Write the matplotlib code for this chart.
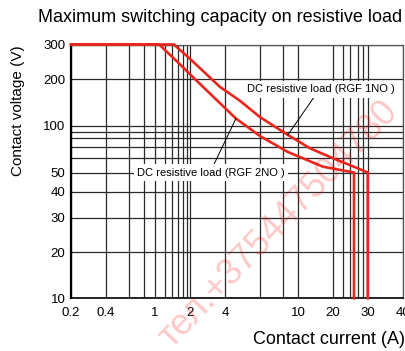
import numpy as np
import matplotlib.pyplot as plt

plt.rcParams['font.family'] = ['Liberation Sans', 'DejaVu Sans']

# chart grid (the original drawing is not a true log grid)
x_grid = [0.2, 0.4, 0.6, 0.8, 1, 1.2, 1.4, 1.6, 1.8, 1.9, 2, 4, 6, 8, 10,
          20, 22, 24, 26, 28, 30, 40]
y_grid = [10, 20, 30, 40, 50, 60, 70, 80, 90, 100, 200, 300]

x_ticks = [0.2, 0.4, 1, 2, 4, 10, 20, 30, 40]
x_labels = ['0.2', '0.4', '1', '2', '4', '10', '20', '30', '40']
y_ticks = [10, 20, 30, 40, 50, 100, 200, 300]
y_labels = ['10', '20', '30', '40', '50', '100', '200', '300']

# switching capacity curves
current_1no = [0.2, 1.46, 1.94, 2.44, 3.62, 4.76, 6, 8.6, 12.7, 20, 24.7, 30, 30]
voltage_1no = [300, 300, 259, 227, 178, 145, 114, 85, 68.4, 59.6, 54, 50, 10]
current_2no = [0.2, 1.08, 1.6, 2.25, 3.62, 4.54, 6, 8.6, 16.4, 25, 25]
voltage_2no = [300, 300, 243, 197, 140, 111.7, 83.3, 65, 53.7, 50, 10]

# scale knots: value -> position on the drawn axis
x_knot_val = [0.2, 0.4, 0.6, 0.8, 1, 1.2, 1.4, 1.6, 1.8, 2, 4, 6, 8, 10,
              20, 22, 24, 25, 26, 28, 30, 40]
x_knot_pos = [0, 35, 58, 73, 84, 94, 101, 107, 112, 119, 154, 189, 212, 227,
              262, 272, 279, 283, 287.3, 291.7, 296.7, 332]
y_knot_val = [10, 20, 30, 40, 50, 60, 70, 80, 90, 100, 200, 300]
y_knot_pos = [0, 46, 80.6, 106.6, 125.8, 140.6, 151.6, 160, 166.6, 172.3, 219.3, 253.8]


def make_scale(vals, pos):
    lv = np.log10(vals)

    def fwd(v):
        v = np.clip(np.asarray(v, dtype=float), 1e-6, None)
        return np.interp(np.log10(v), lv, pos)

    def inv(p):
        return 10 ** np.interp(p, pos, lv)
    return fwd, inv


fig = plt.figure(figsize=(4.06, 3.51), dpi=100)
ax = fig.add_axes([71 / 406, 1 - 298.3 / 351, 332 / 406, 253.8 / 351])

ax.set_xscale('function', functions=make_scale(x_knot_val, x_knot_pos))
ax.set_yscale('function', functions=make_scale(y_knot_val, y_knot_pos))
ax.set_xlim(0.2, 40)
ax.set_ylim(10, 300)

ax.set_xticks(x_ticks)
ax.set_xticklabels(x_labels)
ax.set_xticks([v for v in x_grid if v not in x_ticks], minor=True)
ax.set_yticks(y_ticks)
ax.set_yticklabels(y_labels)
ax.set_yticks([v for v in y_grid if v not in y_ticks], minor=True)
ax.tick_params(which='both', length=0, labelsize=9.5)
ax.tick_params(axis='x', pad=6)
ax.tick_params(axis='y', pad=4)
ax.grid(True, which='both', color='#2a2a2a', linewidth=0.9)

for s in ['top', 'right']:
    ax.spines[s].set_color('#555555')
    ax.spines[s].set_linewidth(0.9)
ax.spines['left'].set_linewidth(1.6)
ax.spines['bottom'].set_linewidth(1.2)

red = '#e8261c'
ax.plot(current_1no, voltage_1no, color=red, lw=1.9, zorder=4,
        solid_joinstyle='miter', clip_on=False)
ax.plot(current_2no, voltage_2no, color=red, lw=1.9, zorder=4,
        solid_joinstyle='miter', clip_on=False)

box = dict(boxstyle='square,pad=0.3', fc='white', ec='none')
ax.annotate('DC resistive load (RGF 1NO )', xy=(8.6, 85), xytext=(15.6, 172),
            ha='center', va='center', fontsize=8, bbox=box, zorder=5,
            arrowprops=dict(arrowstyle='-', lw=0.7, color='black',
                            shrinkA=0, shrinkB=0, relpos=(0.47, 0)))
ax.annotate('DC resistive load (RGF 2NO )', xy=(4.54, 111.7), xytext=(3.03, 50),
            ha='center', va='center', fontsize=8, bbox=box, zorder=5,
            arrowprops=dict(arrowstyle='-', lw=0.7, color='black',
                            shrinkA=0, shrinkB=0, relpos=(0.51, 1)))

ax.set_xlabel('Contact current (A)', fontsize=13, ha='right', va='center')
ax.xaxis.set_label_coords(1.005, -0.162)
ax.set_ylabel('Contact voltage (V)', fontsize=11, va='center')
ax.yaxis.set_label_coords(-0.16, 0.74)

fig.text(220 / 406, 1 - 17 / 351, 'Maximum switching capacity on resistive load',
         ha='center', va='center', fontsize=13)

# watermark
fig.text(0.685, 0.36, 'тел.+375447504780', rotation=46, ha='center', va='center',
         fontsize=26, color='red', alpha=0.22, zorder=10)

fig.savefig('out.png', dpi=100)
